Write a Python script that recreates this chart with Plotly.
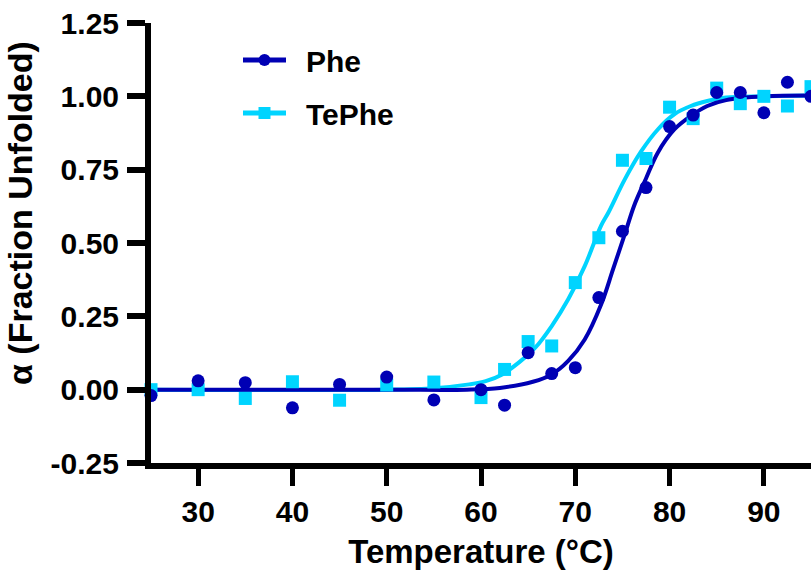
import plotly.graph_objects as go

# Measured data (temperature in °C, fraction unfolded)
temps = [25, 30, 35, 40, 45, 50, 55, 60, 62.5, 65, 67.5, 70, 72.5, 75, 77.5, 80, 82.5, 85, 87.5, 90, 92.5, 95]
phe_vals = [-0.02, 0.03, 0.024, -0.062, 0.018, 0.043, -0.035, 0.0, -0.053, 0.126, 0.055, 0.075,
            0.314, 0.54, 0.689, 0.897, 0.936, 1.013, 1.013, 0.944, 1.048, 1.0]
tephe_vals = [0.0, 0.0, -0.03, 0.027, -0.036, 0.016, 0.026, -0.027, 0.069, 0.164, 0.149, 0.365,
              0.518, 0.782, 0.788, 0.963, 0.924, 1.028, 0.975, 1.0, 0.967, 1.033]

# Fitted curves
phe_fit_t = [25, 50, 58.5, 62, 65.5, 67.5, 69.25, 71, 72.75, 74, 75.25, 76.25, 77.5, 78.75, 80.5, 82.25, 84, 86, 90, 95]
phe_fit_v = [0.0, 0.0, 0.0, 0.006, 0.027, 0.052, 0.098, 0.171, 0.291, 0.41, 0.53, 0.628, 0.72, 0.808, 0.887, 0.933, 0.967, 0.987, 1.0, 1.003]
tephe_fit_t = [25, 50, 55, 58.75, 60.5, 62.25, 64, 65.75, 67.5, 69.25, 71, 72.75, 73.5, 75.25, 77, 78.75, 80.5, 82.25, 84, 86, 90, 95]
tephe_fit_v = [0.0, 0.0, 0.005, 0.018, 0.029, 0.052, 0.092, 0.143, 0.217, 0.308, 0.421, 0.56, 0.603, 0.717, 0.813, 0.887, 0.939, 0.967, 0.984, 0.996, 1.0, 1.003]

x_ticks = [30, 40, 50, 60, 70, 80, 90]
y_ticks = [-0.25, 0.0, 0.25, 0.5, 0.75, 1.0, 1.25]
y_ticktext = ["-0.25", "0.00", "0.25", "0.50", "0.75", "1.00", "1.25"]

PHE = "#0000B4"
TEPHE = "#00D4FF"
FONT = "Arial, Liberation Sans, sans-serif"

L, R, T, B = 151, 0, 23, 111
W, H = 811, 574
PW, PH = W - L - R, H - T - B

fig = go.Figure()

# TePhe drawn first (underneath)
fig.add_trace(go.Scatter(x=tephe_fit_t, y=tephe_fit_v, mode="lines", line=dict(color=TEPHE, width=4, shape="spline"),
                         showlegend=False, hoverinfo="skip"))
fig.add_trace(go.Scatter(x=phe_fit_t, y=phe_fit_v, mode="lines", line=dict(color=PHE, width=4, shape="spline"),
                         showlegend=False, hoverinfo="skip"))
fig.add_trace(go.Scatter(x=temps, y=tephe_vals, mode="markers", marker=dict(symbol="square", size=13, color=TEPHE),
                         showlegend=False, cliponaxis=False))
fig.add_trace(go.Scatter(x=temps, y=phe_vals, mode="markers", marker=dict(symbol="circle", size=13, color=PHE),
                         showlegend=False, cliponaxis=False))

# legend entries
fig.add_trace(go.Scatter(x=[None], y=[None], mode="lines+markers", name="\u2002Phe",
                         line=dict(color=PHE, width=5), marker=dict(symbol="circle", size=12, color=PHE),
                         legend="legend"))
fig.add_trace(go.Scatter(x=[None], y=[None], mode="lines+markers", name="\u2002TePhe",
                         line=dict(color=TEPHE, width=5), marker=dict(symbol="square", size=12, color=TEPHE),
                         legend="legend2"))

legend_common = dict(font=dict(family=FONT, size=30, color="black", weight="bold"), bgcolor="rgba(0,0,0,0)",
                     borderwidth=0, xanchor="left", yanchor="middle", itemwidth=43, xref="paper", yref="paper")

fig.update_layout(
    width=W, height=H,
    margin=dict(l=L, r=R, t=T, b=B),
    paper_bgcolor="white", plot_bgcolor="white",
    font=dict(family=FONT, size=26, color="black"),
    legend=dict(x=(238 - L) / PW, y=(H - B - 60) / PH, **legend_common),
    legend2=dict(x=(238 - L) / PW, y=(H - B - 113) / PH, **legend_common),
    xaxis=dict(range=[25, 95], tickvals=x_ticks, ticks="outside", ticklen=17, tickwidth=5, tickcolor="black",
               showline=True, linewidth=6, linecolor="black", showgrid=False, zeroline=False,
               tickfont=dict(family=FONT, size=30, color="black", weight="bold"),
               ticklabelstandoff=0,
               title=dict(text="Temperature (°C)", font=dict(family=FONT, size=33, color="black", weight="bold"),
                          standoff=15)),
    yaxis=dict(range=[-0.25, 1.25], tickvals=y_ticks, ticktext=y_ticktext, ticks="outside", ticklen=18, tickwidth=6,
               tickcolor="black", showline=True, linewidth=6, linecolor="black", showgrid=False, zeroline=False,
               tickfont=dict(family=FONT, size=30, color="black", weight="bold"), ticklabelstandoff=2),
    annotations=[dict(text="α (Fraction Unfolded)", textangle=-90,
                      x=(20 - L) / PW, y=(H - B - 213) / PH, xref="paper", yref="paper",
                      xanchor="center", yanchor="middle", showarrow=False,
                      font=dict(family=FONT, size=34, color="black", weight="bold"))],
)

fig.write_html("out.html")
